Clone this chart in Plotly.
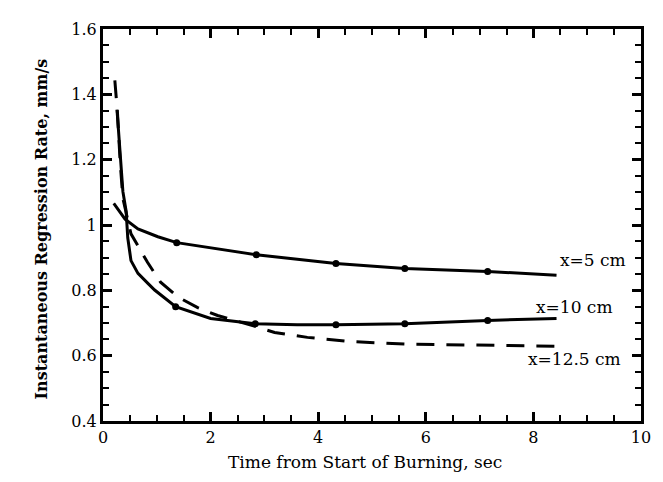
import plotly.graph_objects as go

# x = 5 cm (solid, with dot markers)
t5 = [0.20, 0.41, 0.65, 1.02, 1.37, 2.13, 2.85, 4.33, 5.61, 7.15, 8.43]
r5 = [1.066, 1.018, 0.988, 0.964, 0.946, 0.928, 0.909, 0.882, 0.867, 0.858, 0.846]
m5_t = [1.37, 2.85, 4.33, 5.61, 7.15]
m5_r = [0.946, 0.909, 0.882, 0.867, 0.858]

# x = 10 cm (solid, with dot markers)
t10 = [0.26, 0.37, 0.43, 0.46, 0.52, 0.65, 0.83, 0.96, 1.35, 2.0, 2.83, 3.61, 4.33, 5.61, 7.15, 8.43]
r10 = [1.353, 1.102, 1.042, 0.961, 0.891, 0.852, 0.822, 0.801, 0.750, 0.714, 0.698, 0.695, 0.695, 0.698, 0.708, 0.714]
m10_t = [1.35, 2.83, 4.33, 5.61, 7.15]
m10_r = [0.750, 0.698, 0.695, 0.698, 0.708]

# x = 12.5 cm (dashed)
t125 = [0.22, 0.27, 0.32, 0.37, 0.52, 0.65, 0.83, 1.07, 1.39, 1.76, 2.13, 2.78, 3.19, 3.80, 4.54, 5.65, 7.13, 8.48]
r125 = [1.443, 1.34, 1.19, 1.081, 0.973, 0.937, 0.885, 0.825, 0.780, 0.747, 0.723, 0.692, 0.671, 0.656, 0.644, 0.635, 0.632, 0.629]

labels = ["x=5 cm", "x=10 cm", "x=12.5 cm"]
label_t = [9.11, 8.76, 8.76]
label_r = [0.894, 0.750, 0.59]

serif = "DejaVu Serif"
fig = go.Figure()
fig.add_trace(go.Scatter(x=t5, y=r5, mode="lines", line=dict(color="black", width=3), showlegend=False))
fig.add_trace(go.Scatter(x=m5_t, y=m5_r, mode="markers", marker=dict(color="black", size=7), showlegend=False))
fig.add_trace(go.Scatter(x=t10, y=r10, mode="lines", line=dict(color="black", width=3), showlegend=False))
fig.add_trace(go.Scatter(x=m10_t, y=m10_r, mode="markers", marker=dict(color="black", size=7), showlegend=False))
fig.add_trace(go.Scatter(x=t125, y=r125, mode="lines", line=dict(color="black", width=3, dash="18px,12px"), showlegend=False))

for lab, lt, lr in zip(labels, label_t, label_r):
    fig.add_annotation(x=lt, y=lr, text=lab, showarrow=False,
                       font=dict(family=serif, size=17, color="black"))

fig.add_annotation(xref="paper", yref="paper", x=(357 - 95) / 538, y=-54 / 398,
                   text="Time from Start of Burning, sec", showarrow=False,
                   font=dict(family=serif, size=17, color="black"))
fig.add_annotation(xref="paper", yref="paper", x=-73 / 538, y=0.49, textangle=-90,
                   text="<b>Instantaneous Regression Rate, mm/s</b>", showarrow=False,
                   font=dict(family=serif, size=16, color="black"))

axis_common = dict(showline=True, linecolor="black", linewidth=3, mirror="ticks",
                   ticks="inside", ticklen=9, tickwidth=2.5, tickcolor="black",
                   showgrid=False, zeroline=False,
                   tickfont=dict(family=serif, size=16, color="black"))
fig.update_xaxes(range=[0, 10], tick0=0, dtick=2,
                 minor=dict(ticks="inside", tick0=0, dtick=0.5, ticklen=6, tickwidth=2, tickcolor="black", showgrid=False),
                 **axis_common)
fig.update_yaxes(range=[0.4, 1.6], tick0=0.4, dtick=0.2,
                 minor=dict(ticks="inside", tick0=0.4, dtick=0.05, ticklen=6, tickwidth=2, tickcolor="black", showgrid=False),
                 **axis_common)
fig.update_layout(width=663, height=482, margin=dict(l=95, r=30, t=15, b=69),
                  paper_bgcolor="white", plot_bgcolor="white")
fig.write_html("out.html")
